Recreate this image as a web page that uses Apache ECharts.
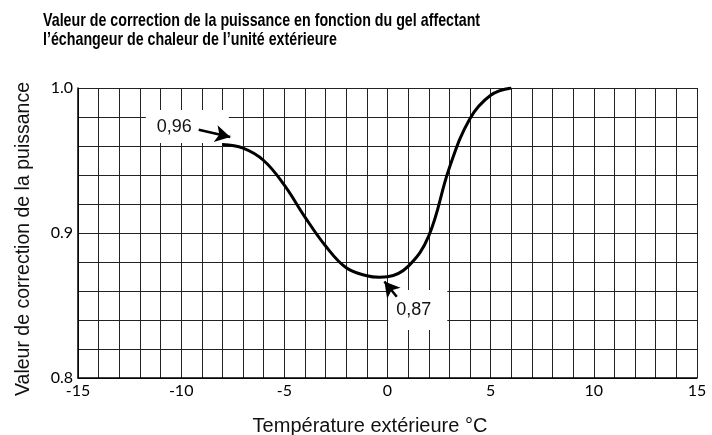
<!DOCTYPE html>
<html>
<head>
<meta charset="utf-8">
<script src="https://cdn.jsdelivr.net/npm/echarts@6/dist/echarts.min.js"></script>
<style>
  html, body { margin: 0; padding: 0; background: #fff; }
  #chart { width: 712px; height: 435px; }
</style>
</head>
<body>
<div id="chart"></div>
<script>
// valeurs : [température °C, valeur de correction]
const curvePoints = [
  [-8, 0.961], [-7, 0.9585], [-6, 0.950], [-5, 0.933], [-4, 0.911],
  [-3, 0.891], [-2, 0.876], [-1, 0.8705], [-0.4, 0.8695], [0, 0.8698],
  [1, 0.877], [2, 0.898], [3, 0.945], [4, 0.979], [5, 0.995], [6, 1.0],
];
const xTickLabels = [-15, -10, -5, 0, 5, 10, 15];
const yTickLabels = [0.8, 0.9, 1.0];
// annotations : texte, centre du cadre blanc, flèche [départ, pointe]
const annotTexts = ['0,96', '0,87'];
const annotBoxes = [[-9.70, 0.9734], [1.465, 0.8469]];
const annotArrows = [
  [[-9.15, 0.9712], [-7.62, 0.9662]],
  [[0.45, 0.856], [-0.15, 0.8665]],
];

const chart = echarts.init(document.getElementById('chart'));

const option = {
  animation: false,
  backgroundColor: '#fff',
  graphic: [
    {
      // titre en gras étroit (police écrasée horizontalement)
      type: 'text',
      x: 43,
      y: 11,
      scaleX: 0.75,
      style: {
        text: 'Valeur de correction de la puissance en fonction du gel affectant\nl’échangeur de chaleur de l’unité extérieure',
        font: 'bold 19px "Liberation Sans", Arial, sans-serif',
        lineHeight: 19.5,
        fill: '#000',
        textVerticalAlign: 'top',
      },
    },
  ],
  grid: { left: 78, right: 15, top: 88, bottom: 57, outerBoundsMode: 'none' },
  xAxis: {
    type: 'value',
    min: -15,
    max: 15,
    interval: 1,
    name: 'Température extérieure °C',
    nameLocation: 'middle',
    nameGap: 38,
    nameTextStyle: {
      fontFamily: 'Liberation Sans',
      fontSize: 20,
      color: '#111',
      padding: [0, 35, 0, 0],
    },
    axisLine: { onZero: false, lineStyle: { color: '#000', width: 1.5 } },
    axisTick: { show: false },
    axisLabel: {
      margin: 5,
      fontFamily: 'Lato',
      fontSize: 16,
      color: '#000',
      formatter: v => (xTickLabels.includes(v) ? String(v) : ''),
    },
    splitLine: { show: true, lineStyle: { color: '#222', width: 1 } },
  },
  yAxis: {
    type: 'value',
    min: 0.8,
    max: 1.0,
    interval: 0.02,
    name: 'Valeur de correction de la puissance',
    nameLocation: 'middle',
    nameGap: 44,
    nameTextStyle: {
      fontFamily: 'Liberation Sans',
      fontSize: 19.5,
      color: '#111',
      padding: [0, 12, 0, 0],
    },
    axisLine: { show: true, onZero: false, lineStyle: { color: '#000', width: 1.5 } },
    axisTick: { show: false },
    axisLabel: {
      margin: 5,
      fontFamily: 'Lato',
      fontSize: 16,
      color: '#000',
      formatter: v => {
        const hit = yTickLabels.find(t => Math.abs(t - v) < 1e-6);
        return hit !== undefined ? hit.toFixed(1) : '';
      },
    },
    splitLine: { show: true, lineStyle: { color: '#222', width: 1 } },
  },
  series: [
    {
      type: 'line',
      data: curvePoints,
      smooth: 0.4,
      showSymbol: false,
      lineStyle: { color: '#000', width: 3 },
      z: 3,
      markPoint: {
        z: 4,
        symbol: 'rect',
        symbolSize: 0,
        label: {
          show: true,
          position: 'inside',
          fontFamily: 'Liberation Sans',
          fontSize: 18,
          lineHeight: 18,
          color: '#111',
          backgroundColor: '#fff',
          formatter: p => p.name,
        },
        data: [
          {
            name: annotTexts[0],
            coord: annotBoxes[0],
            label: { padding: [5, 37, 10, 11] },
          },
          {
            name: annotTexts[1],
            coord: annotBoxes[1],
            label: { padding: [5, 16, 17, 8] },
          },
        ],
      },
    },
    {
      // flèches des annotations
      type: 'line',
      data: [],
      z: 10,
      markLine: {
        z: 10,
        silent: true,
        symbol: ['none', 'arrow'],
        symbolSize: [13, 15],
        label: { show: false },
        lineStyle: { color: '#000', width: 2.5, type: 'solid' },
        data: annotArrows.map(a => [{ coord: a[0] }, { coord: a[1] }]),
      },
    },
  ],
};

chart.setOption(option);
</script>
</body>
</html>
